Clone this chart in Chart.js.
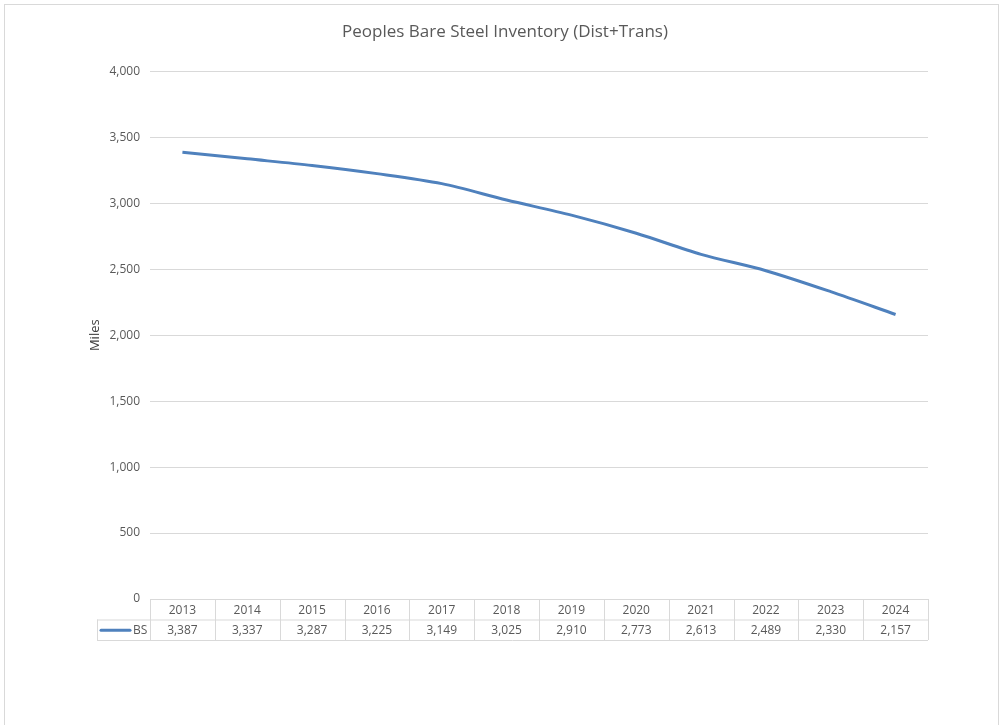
<!DOCTYPE html>
<html>
<head>
<meta charset="utf-8">
<script src="https://cdn.jsdelivr.net/npm/chart.js@4/dist/chart.umd.min.js"></script>
<style>
  html, body { margin: 0; padding: 0; background: #fff; }
  #wrap { width: 1000px; height: 725px; position: relative; }
</style>
</head>
<body>
<div id="wrap"><canvas id="bs-chart"></canvas></div>
<script>
const years = ["2013", "2014", "2015", "2016", "2017", "2018", "2019", "2020", "2021", "2022", "2023", "2024"];
const bsMiles = [3387, 3337, 3287, 3225, 3149, 3025, 2910, 2773, 2613, 2489, 2330, 2157];
const seriesName = "BS";
const lineColor = 'rgb(79, 129, 189)';
const textColor = '#595959';
const gridColor = '#d9d9d9';

// excel style data table under the plot, plus the outer frame
const dataTable = {
  id: 'dataTable',
  beforeDraw(chart) {
    const ctx = chart.ctx;
    ctx.save();
    ctx.strokeStyle = '#d9d9d9';
    ctx.lineWidth = 1;
    ctx.strokeRect(4.5, 4.5, 994, 740);
    ctx.restore();
  },
  afterDraw(chart) {
    const ctx = chart.ctx;
    const area = chart.chartArea;
    const x = chart.scales.x;
    const step = (area.right - area.left) / years.length;
    const top = area.bottom;
    const rowH = 20.5;
    const legendLeft = 97;

    ctx.save();
    ctx.strokeStyle = gridColor;
    ctx.lineWidth = 1;
    ctx.beginPath();
    // horizontal lines
    ctx.moveTo(area.left, top + 0.5);
    ctx.lineTo(area.right, top + 0.5);
    ctx.moveTo(legendLeft, top + rowH + 0.5);
    ctx.lineTo(area.right, top + rowH + 0.5);
    ctx.moveTo(legendLeft, top + 2 * rowH + 0.5);
    ctx.lineTo(area.right, top + 2 * rowH + 0.5);
    // vertical lines
    for (let i = 0; i <= years.length; i++) {
      const vx = Math.round(area.left + i * step) + 0.5;
      ctx.moveTo(vx, top);
      ctx.lineTo(vx, top + 2 * rowH);
    }
    ctx.moveTo(legendLeft + 0.5, top + rowH);
    ctx.lineTo(legendLeft + 0.5, top + 2 * rowH);
    ctx.stroke();

    ctx.fillStyle = textColor;
    ctx.font = '12px "Open Sans", sans-serif';
    ctx.textAlign = 'center';
    ctx.textBaseline = 'middle';
    years.forEach((y, i) => {
      const cx = x.getPixelForValue(i);
      ctx.fillText(y, cx, top + rowH / 2 + 1);
      ctx.fillText(bsMiles[i].toLocaleString('en-US'), cx, top + rowH * 1.5 + 1);
    });

    // legend key
    ctx.strokeStyle = lineColor;
    ctx.lineWidth = 3;
    ctx.lineCap = 'round';
    ctx.beginPath();
    ctx.moveTo(legendLeft + 4, top + rowH * 1.5 + 0.5);
    ctx.lineTo(legendLeft + 33, top + rowH * 1.5 + 0.5);
    ctx.stroke();
    ctx.textAlign = 'left';
    ctx.fillText(seriesName, legendLeft + 36, top + rowH * 1.5 + 1);
    ctx.restore();
  }
};

const ctxBs = document.getElementById('bs-chart').getContext('2d');

const bsChart = new Chart(ctxBs, {
  type: 'line',
  data: {
    labels: years,
    datasets: [{
      label: seriesName,
      data: bsMiles,
      borderColor: lineColor,
      borderWidth: 3,
      pointRadius: 0,
      tension: 0.3,
      fill: false
    }]
  },
  options: {
    responsive: true,
    maintainAspectRatio: false,
    animation: false,
    layout: {
      padding: { left: 82, right: 72, top: 0, bottom: 126 }
    },
    scales: {
      x: {
        display: false,
        offset: true
      },
      y: {
        min: 0,
        max: 4000,
        afterFit(scale) { scale.width = 68; },
        ticks: {
          stepSize: 500,
          color: textColor,
          padding: 10,
          font: { family: '"Open Sans", sans-serif', size: 12 },
          callback: (v) => v.toLocaleString('en-US')
        },
        grid: {
          color: gridColor,
          drawTicks: false
        },
        border: { display: false },
        title: {
          display: true,
          text: 'Miles',
          color: '#404040',
          padding: { top: 5, bottom: 0 },
          font: { family: '"Open Sans", sans-serif', size: 13 }
        }
      }
    },
    plugins: {
      legend: {
        display: false
      },
      tooltip: { enabled: false },
      title: {
        display: true,
        text: 'Peoples Bare Steel Inventory (Dist+Trans)',
        color: textColor,
        padding: { top: 22, bottom: 29 },
        font: { family: '"Open Sans", sans-serif', size: 17, weight: 'normal' }
      }
    }
  },
  plugins: [dataTable]
});
</script>
</body>
</html>
